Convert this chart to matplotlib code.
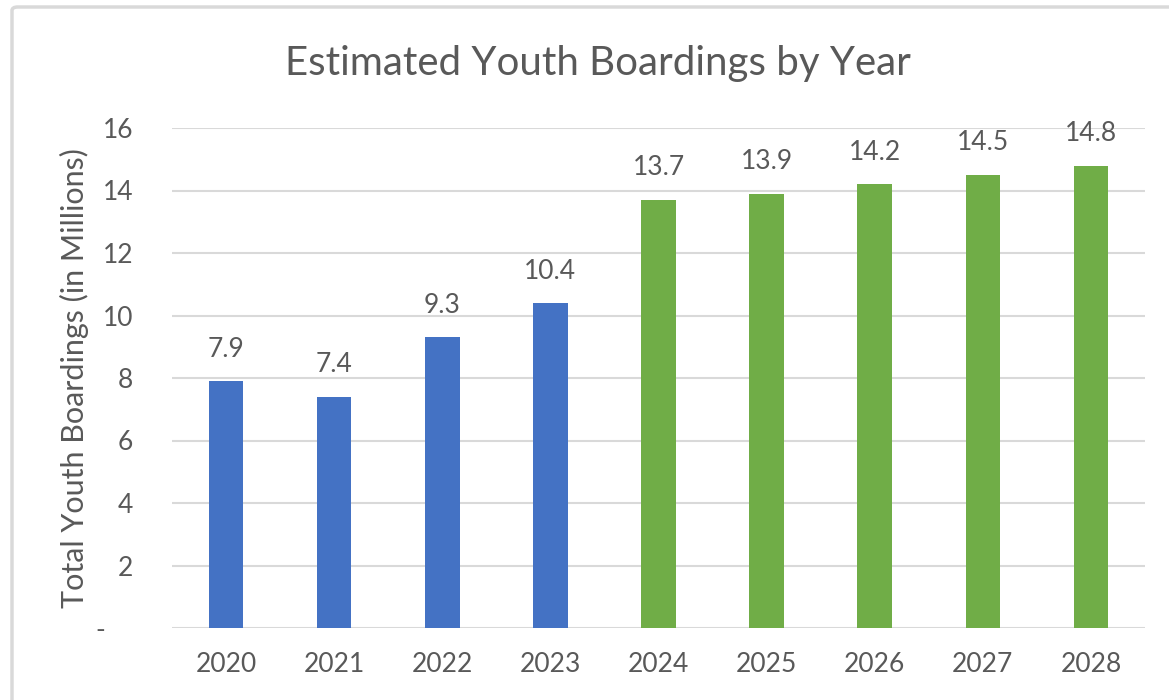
import matplotlib
matplotlib.use("Agg")
import matplotlib.pyplot as plt
from matplotlib.patches import FancyBboxPatch

years = ["2020", "2021", "2022", "2023", "2024", "2025", "2026", "2027", "2028"]
values = [7.9, 7.4, 9.3, 10.4, 13.7, 13.9, 14.2, 14.5, 14.8]
labels = ["7.9", "7.4", "9.3", "10.4", "13.7", "13.9", "14.2", "14.5", "14.8"]
colors = ["#4472C4"] * 4 + ["#70AD47"] * 5
yticks = [0, 2, 4, 6, 8, 10, 12, 14, 16]
yticklabels = ["-    ", "2", "4", "6", "8", "10", "12", "14", "16"]

plt.rcParams['font.family'] = ['Lato', 'DejaVu Sans']
txt = "#595959"

fig = plt.figure(figsize=(11.69, 7.0), dpi=100)
fig.patch.set_facecolor("white")
border = FancyBboxPatch((12/1169, -0.2), 1.5, 0.2 + (700-7)/700, boxstyle="round,pad=0,rounding_size=0.005",
                        transform=fig.transFigure, fill=False, edgecolor="#D9D9D9", linewidth=2.5)
fig.patches.append(border)

ax = fig.add_axes([172/1169, 72/700, (1145-172)/1169, 500/700])
x = range(len(years))
bars = ax.bar(x, values, width=0.32, color=colors, zorder=3)
for xi, v, lab in zip(x, values, labels):
    ax.annotate(lab, (xi, v), xytext=(0, 23), textcoords="offset points",
                ha="center", va="center", fontsize=19, color=txt)

ax.set_xlim(-0.5, len(years) - 0.5)
ax.set_ylim(0, 16)
ax.set_yticks(yticks)
ax.set_yticklabels(yticklabels, fontsize=19, color=txt)
ax.set_xticks(list(x))
ax.set_xticklabels(years, fontsize=19, color=txt)
ax.tick_params(axis="both", length=0)
ax.tick_params(axis="y", pad=28)
ax.tick_params(axis="x", pad=17)
ax.grid(axis="y", color="#D9D9D9", linewidth=1.5, zorder=0)
for s in ax.spines.values():
    s.set_visible(False)
ax.set_ylabel("Total Youth Boardings (in Millions)", fontsize=22, color=txt, labelpad=5)

fig.text(598/1169, 1 - 63/700, "Estimated Youth Boardings by Year", ha="center", va="center",
         fontsize=29, color=txt)

fig.savefig("out.png", dpi=100)
